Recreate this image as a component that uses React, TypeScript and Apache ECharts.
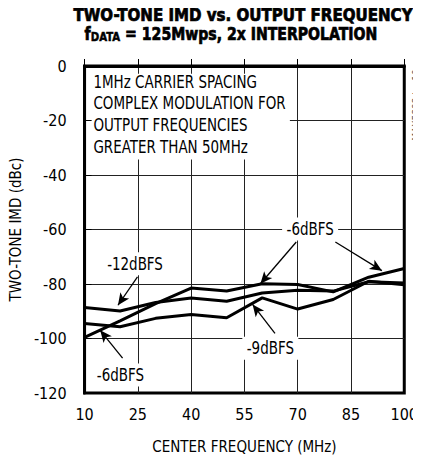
import React, { useEffect, useRef } from "react";
import * as echarts from "echarts";

const FONT = "'Liberation Sans Narrow', 'DejaVu Sans Condensed', 'Roboto Condensed', sans-serif";

const freqs = [10, 20, 30, 40, 50, 60, 70, 80, 90, 100];
const imd6 = [-99.6, -93.5, -87.2, -81.5, -82.6, -79.9, -80.2, -82.9, -77.5, -74.3];
const imd12 = [-88.6, -89.9, -86.8, -85.1, -86.3, -83.3, -82.3, -82.6, -79.2, -79.6];
const imd9 = [-94.5, -95.7, -92.6, -91.2, -92.4, -85.1, -89.2, -85.7, -79.0, -80.3];

const xTicks = [10, 25, 40, 55, 70, 85, 100];
const yTicks = [0, -20, -40, -60, -80, -100, -120];

const noteLines = [
  "1MHz CARRIER SPACING",
  "COMPLEX MODULATION FOR",
  "OUTPUT FREQUENCIES",
  "GREATER THAN 50MHz",
];

// labels in data coordinates
const labels = [
  { text: "-12dBFS", at: [24.2, -72.6] },
  { text: "-6dBFS", at: [73.5, -59.8] },
  { text: "-9dBFS", at: [62.3, -103.6] },
  { text: "-6dBFS", at: [20.1, -113.4] },
];
// arrows [from, to] in data coordinates
const arrows = [
  [[24.9, -77.4], [19.4, -87.8]],
  [[69.6, -64.6], [59.5, -79.9]],
  [[80.6, -64.6], [93.7, -75.1]],
  [[63.6, -98.1], [57.3, -87.5]],
  [[20.7, -107.2], [14.4, -97.0]],
];

export default function App() {
  const ref = useRef<HTMLDivElement>(null);
  useEffect(() => {
    if (!ref.current) return;
    const chart = echarts.init(ref.current, null, { renderer: "svg" });
    const mk = (name: string, vals: number[]) => ({
      name,
      type: "line",
      data: freqs.map((f, i) => [f, vals[i]]),
      showSymbol: false,
      symbol: "none",
      lineStyle: { color: "#000", width: 3 },
      z: 3,
    });
    const s6: any = mk("-6dBFS", imd6);
    s6.markLine = {
      silent: true,
      symbol: ["none", "arrow"],
      symbolSize: [8, 12],
      label: { show: false },
      lineStyle: { color: "#000", width: 1.3, type: "solid" },
      data: arrows.map(([a, b]) => [{ coord: a }, { coord: b }]),
    };
    chart.setOption({
      animation: false,
      backgroundColor: "#fff",
      textStyle: { fontFamily: FONT },
      grid: {
        left: 79,
        top: 66,
        width: 329,
        height: 329,
        show: true,
        borderColor: "#000",
        borderWidth: 3,
        backgroundColor: "transparent",
      },
      xAxis: {
        type: "value",
        min: 10,
        max: 100,
        interval: 15,
        name: "CENTER FREQUENCY (MHz)",
        nameLocation: "middle",
        nameGap: 46,
        nameTextStyle: { fontSize: 15, color: "#000", fontFamily: FONT },
        axisLine: { lineStyle: { color: "#000", width: 3 } },
        axisTick: { show: true, inside: true, length: 7, lineStyle: { color: "#000", width: 1 } },
        axisLabel: {
          fontSize: 16,
          color: "#000",
          margin: 13,
          fontFamily: FONT,
          formatter: (v: number) => (xTicks.includes(v) ? String(v) : ""),
        },
        splitLine: { show: true, showMinLine: false, showMaxLine: false, lineStyle: { color: "#222", width: 1 } },
      },
      yAxis: {
        type: "value",
        min: -120,
        max: 0,
        interval: 20,
        name: "TWO-TONE IMD (dBc)",
        nameLocation: "middle",
        nameGap: 57,
        nameTextStyle: { fontSize: 15, color: "#000", fontFamily: FONT },
        axisLine: { lineStyle: { color: "#000", width: 3 } },
        axisTick: { show: true, inside: true, length: 7, lineStyle: { color: "#000", width: 1 } },
        axisLabel: {
          fontSize: 16,
          color: "#000",
          margin: 18,
          fontFamily: FONT,
          formatter: (v: number) => (yTicks.includes(v) ? String(v) : ""),
        },
        splitLine: { show: true, showMinLine: false, showMaxLine: false, lineStyle: { color: "#222", width: 1 } },
      },
      series: [s6, mk("-12dBFS", imd12), mk("-9dBFS", imd9)],
    });

    const px = (p: number[]) => chart.convertToPixel({ gridIndex: 0 }, p) as number[];
    const graphics: any[] = [];
    // title
    graphics.push({
      type: "text",
      x: 243,
      y: 14.5,
      scaleX: 0.93,
      style: {
        text: "TWO-TONE IMD vs. OUTPUT FREQUENCY",
        font: `bold 18px ${FONT}`,
        fill: "#000",
        stroke: "#000",
        lineWidth: 0.7,
        align: "center",
        verticalAlign: "middle",
      },
    });
    graphics.push({
      type: "text",
      x: 231,
      y: 34,
      scaleX: 0.87,
      style: {
        text: "{f|f}{s|DATA}{m| = 125Mwps, 2x INTERPOLATION}",
        align: "center",
        verticalAlign: "middle",
        stroke: "#000",
        lineWidth: 0.7,
        rich: {
          f: { font: `bold 18px ${FONT}`, fill: "#000", stroke: "#000", lineWidth: 0.7 },
          s: { font: `bold 13px ${FONT}`, fill: "#000", stroke: "#000", lineWidth: 0.5, padding: [6, 0, 0, 0] },
          m: { font: `bold 18px ${FONT}`, fill: "#000", stroke: "#000", lineWidth: 0.7 },
        },
      },
    });
    // note box
    const tl = px([12, -2.8]);
    const br = px([67.8, -34.3]);
    graphics.push({
      type: "rect",
      z: 1,
      shape: { x: tl[0], y: tl[1], width: br[0] - tl[0], height: br[1] - tl[1] },
      style: { fill: "#fff" },
    });
    const noteStart = px([12.5, -5.8]);
    noteLines.forEach((t, i) => {
      graphics.push({
        type: "text",
        z: 2,
        x: noteStart[0],
        y: noteStart[1] + i * 21.7,
        scaleX: 0.88,
        style: { text: t, font: `17px ${FONT}`, fill: "#000", align: "left", verticalAlign: "middle" },
      });
    });
    labels.forEach((l) => {
      const p = px(l.at);
      graphics.push({
        type: "text",
        z: 2,
        x: p[0],
        y: p[1],
        scaleX: 0.88,
        style: {
          text: l.text,
          font: `17px ${FONT}`,
          fill: "#000",
          align: "center",
          verticalAlign: "middle",
          backgroundColor: "#fff",
          padding: [3, 5, 3, 5],
        },
      });
    });
    graphics.push({
      type: "text",
      x: 416,
      y: 105,
      rotation: Math.PI / 2,
      style: {
        text: "MAX5898 toc10",
        font: `10px ${FONT}`,
        fill: "#555",
        align: "center",
        verticalAlign: "middle",
      },
    });
    chart.setOption({ graphic: graphics });
    return () => chart.dispose();
  }, []);
  return <div ref={ref} style={{ width: 421, height: 459, marginLeft: -8, marginTop: -8 }} />;
}
